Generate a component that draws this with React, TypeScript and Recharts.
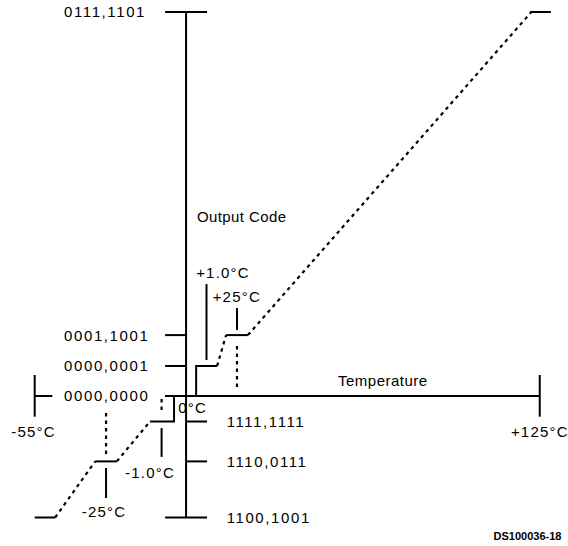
import React from 'react';
import { ComposedChart, Line, Scatter, XAxis, YAxis } from 'recharts';

// Output code vs temperature, drawn like the datasheet figure.
// Positions are schematic (not to scale): x ~ degC along the axis, y ~ code level.

const codeLabels = ['0111,1101', '0001,1001', '0000,0001', '0000,0000', '1111,1111', '1110,0111', '1100,1001'];
const codeLevels = [128, 20.3, 10, 0, -8.5, -21.8, -40.5];
const codeTickSide = ['both', 'left', 'left', 'left', 'right', 'right', 'both'];
const codeLabelSide = ['left', 'left', 'left', 'left', 'right', 'right', 'right'];

const tempLabels = ['-55°C', '-25°C', '-1.0°C', '0°C', '+1.0°C', '+25°C', '+125°C'];
const tempLabelX = [-62.5, -37.3, -21.8, -2.8, 3.6, 9.5, 116.1];
const tempLabelY = [-11.7, -38.6, -25.6, -3.8, 41.3, 33.1, -12];

// transfer curve: flat code steps (solid) and the ramps between them (dotted)
const stepRuns = [
  [[-54.1, -40.5], [-46.8, -40.5]],
  [[-32.5, -21.8], [-24.75, -21.8]],
  [[-12.9, -8.5], [-4.3, -8.5], [-4.3, 0]],
  [[3.6, 0], [3.6, 10], [11.1, 10]],
  [[14.3, 20.3], [22.1, 20.3]],
  [[122.9, 128], [130.4, 128]],
];
const rampRuns = [
  [[-46.8, -40.5], [-32.5, -21.8]],
  [[-24.75, -21.8], [-12.9, -8.5]],
  [[11.1, 10], [14.3, 20.3]],
  [[22.1, 20.3], [123.4, 128]],
];

// axes, end stops and the temperature markers
const axisRuns = [
  [[0, 128], [0, -40.5]],
  [[-7.5, 0], [126.4, 0]],
  [[-54.1, 7], [-54.1, -6.9]],
  [[-54.1, 0], [-47.8, 0]],
  [[126.4, 7], [126.4, -6.9]],
];
const markerRuns = [
  [[-28.6, -24], [-28.6, -34]],
  [[-8.75, -10.7], [-8.75, -20.3]],
  [[7.3, 12], [7.3, 37.3]],
  [[18.2, 22], [18.2, 29.3]],
];
const markerGuides = [
  [[-28.6, -5.7], [-28.6, -19.7]],
  [[-8.75, -1], [-8.75, -5.7]],
  [[18.2, 3], [18.2, 17]],
];

const TICK = 7.5;
const FONT = '"Liberation Sans", Arial, Helvetica, sans-serif';

const toPoints = (run: number[][]) => run.map(([x, y]) => ({ x, y }));

const codeTicks = codeLevels.map((lvl, i) => {
  const side = codeTickSide[i];
  const x0 = side === 'right' ? 0 : -TICK;
  const x1 = side === 'left' ? 0 : TICK;
  return [[x0, lvl], [x1, lvl]];
});

const labels = [
  ...codeLabels.map((text, i) => ({
    x: codeLabelSide[i] === 'right' ? 14.5 : -43.6,
    y: codeLevels[i],
    text,
    size: 15,
    spacing: 1.6,
    bold: false,
  })),
  ...tempLabels.map((text, i) => ({
    x: tempLabelX[i],
    y: tempLabelY[i],
    text,
    size: 15,
    spacing: 1.2,
    bold: false,
  })),
  { x: 3.9, y: 59.8, text: 'Output Code', size: 15, spacing: 0.4, bold: false },
  { x: 54.3, y: 5.2, text: 'Temperature', size: 15, spacing: 0.5, bold: false },
  { x: 109.9, y: -46.7, text: 'DS100036-18', size: 11, spacing: 0, bold: true },
];

const LabelText = (props: any) => {
  const { cx, cy, payload } = props;
  return (
    <text
      x={cx}
      y={cy + payload.size * 0.36}
      fontFamily={FONT}
      fontSize={payload.size}
      fontWeight={payload.bold ? 'bold' : 'normal'}
      letterSpacing={payload.spacing}
      fill="#000"
    >
      {payload.text}
    </text>
  );
};

const runLine = (run: number[][], key: string, dashed: boolean) => (
  <Line
    key={key}
    data={toPoints(run)}
    dataKey="y"
    type="linear"
    stroke="#000"
    strokeWidth={dashed ? 2.2 : 2}
    strokeDasharray={dashed ? '3.5 4' : undefined}
    dot={false}
    activeDot={false}
    legendType="none"
    isAnimationActive={false}
  />
);

export default function App() {
  return (
    <div style={{ width: 568, height: 546, background: '#fff' }}>
      <style>{'body{margin:0;background:#fff}'}</style>
      <ComposedChart width={568} height={546} margin={{ top: 0, right: 0, bottom: 0, left: 0 }}>
        <XAxis type="number" dataKey="x" domain={[-66.5, 136.5]} allowDataOverflow hide />
        <YAxis type="number" domain={[-50, 132]} allowDataOverflow hide />
        {axisRuns.map((r, i) => runLine(r, `axis-${i}`, false))}
        {codeTicks.map((r, i) => runLine(r, `tick-${i}`, false))}
        {markerRuns.map((r, i) => runLine(r, `mark-${i}`, false))}
        {markerGuides.map((r, i) => runLine(r, `guide-${i}`, true))}
        {stepRuns.map((r, i) => runLine(r, `step-${i}`, false))}
        {rampRuns.map((r, i) => runLine(r, `ramp-${i}`, true))}
        <Scatter
          data={labels}
          dataKey="y"
          shape={LabelText}
          legendType="none"
          isAnimationActive={false}
        />
      </ComposedChart>
    </div>
  );
}
